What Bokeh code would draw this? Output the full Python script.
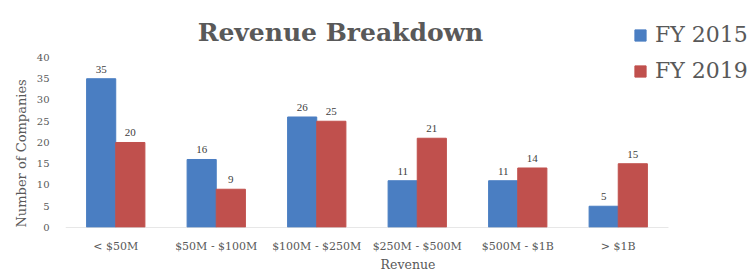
from bokeh.plotting import figure
from bokeh.models import (ColumnDataSource, Range1d, FixedTicker, Legend, LegendItem,
                          Label, LabelSet, Title)
from bokeh.transform import dodge
from bokeh.embed import file_html
from bokeh.resources import INLINE

categories = ["< $50M", "$50M - $100M", "$100M - $250M", "$250M - $500M", "$500M - $1B", "> $1B"]
fy2015 = [35, 16, 26, 11, 11, 5]
fy2019 = [20, 9, 25, 21, 14, 15]
y_ticks = [0, 5, 10, 15, 20, 25, 30, 35, 40]

FONT = "DejaVu Serif"
BLUE = "#4A7EC2"
RED = "#C0504D"
GREY = "#595959"

idx = list(range(len(categories)))
src = ColumnDataSource(dict(i=idx, a=fy2015, b=fy2019,
                            la=[str(v) for v in fy2015], lb=[str(v) for v in fy2019]))

p = figure(x_range=Range1d(-0.5, 6.316), y_range=Range1d(0, 53.41),
           width=750, height=275, output_backend="svg", toolbar_location=None,
           min_border_left=65, min_border_right=0, min_border_top=0, min_border_bottom=48)

w = 0.29
ra = p.vbar(x=dodge("i", -w/2), top="a", width=w, source=src, color=BLUE)
rb = p.vbar(x=dodge("i", w/2), top="b", width=w, source=src, color=RED)

# category baseline (axis line) spanning only the categories
p.segment(x0=[idx[0] - 0.5], x1=[idx[-1] + 0.5], y0=[0], y1=[0], line_color="#D0D0D0", line_width=1)

for col, lab, off in (("a", "la", -w/2), ("b", "lb", w/2)):
    ls = LabelSet(x=dodge("i", off), y=col, text=lab, source=src,
                  text_align="center", text_baseline="bottom", y_offset=6,
                  text_font=FONT, text_font_size="11px", text_color="#404040")
    p.add_layout(ls)

title = Label(x=2.236, y=45.88, text="Revenue Breakdown", text_align="center", text_baseline="alphabetic",
              text_font=FONT, text_font_size="25px", text_font_style="bold", text_color=GREY)
p.add_layout(title)

legend = Legend(items=[LegendItem(label="FY 2015", renderers=[ra]),
                       LegendItem(label="FY 2019", renderers=[rb])],
                location=(568, 144), background_fill_alpha=0, border_line_alpha=0,
                label_text_font=FONT, label_text_font_size="22px", label_text_color=GREY,
                glyph_width=14, glyph_height=14, label_height=24, spacing=11, padding=0, margin=0,
                label_standoff=8)
p.add_layout(legend)

p.xgrid.grid_line_color = None
p.ygrid.grid_line_color = None
p.outline_line_color = None

p.yaxis.ticker = FixedTicker(ticks=y_ticks)
p.yaxis.axis_line_color = None
p.yaxis.major_tick_line_color = None
p.yaxis.minor_tick_line_color = None
p.yaxis.major_tick_out = 0
p.yaxis.major_label_standoff = 16

ylab = Title(text="Number of Companies", align="left", offset=0,
             text_font=FONT, text_font_size="13px", text_font_style="normal", text_color=GREY)
p.add_layout(ylab, "left")

p.xaxis.ticker = FixedTicker(ticks=idx)
p.xaxis.major_label_overrides = {i: c for i, c in zip(idx, categories)}
p.xaxis.axis_line_color = None
p.xaxis.major_tick_line_color = None
p.xaxis.minor_tick_line_color = None
p.xaxis.major_tick_out = 0
p.xaxis.major_label_standoff = 12
p.xaxis.axis_label = "Revenue"
p.xaxis.axis_label_standoff = 1

for ax in (p.xaxis[0], p.yaxis[0]):
    ax.major_label_text_font = FONT
    ax.major_label_text_font_size = "10px"
    ax.major_label_text_color = GREY
    ax.axis_label_text_font = FONT
    ax.axis_label_text_font_size = "12.5px"
    ax.axis_label_text_font_style = "normal"
    ax.axis_label_text_color = GREY
p.xaxis.major_label_text_font_size = "11px"

open("out.html", "w").write(file_html(p, INLINE))
